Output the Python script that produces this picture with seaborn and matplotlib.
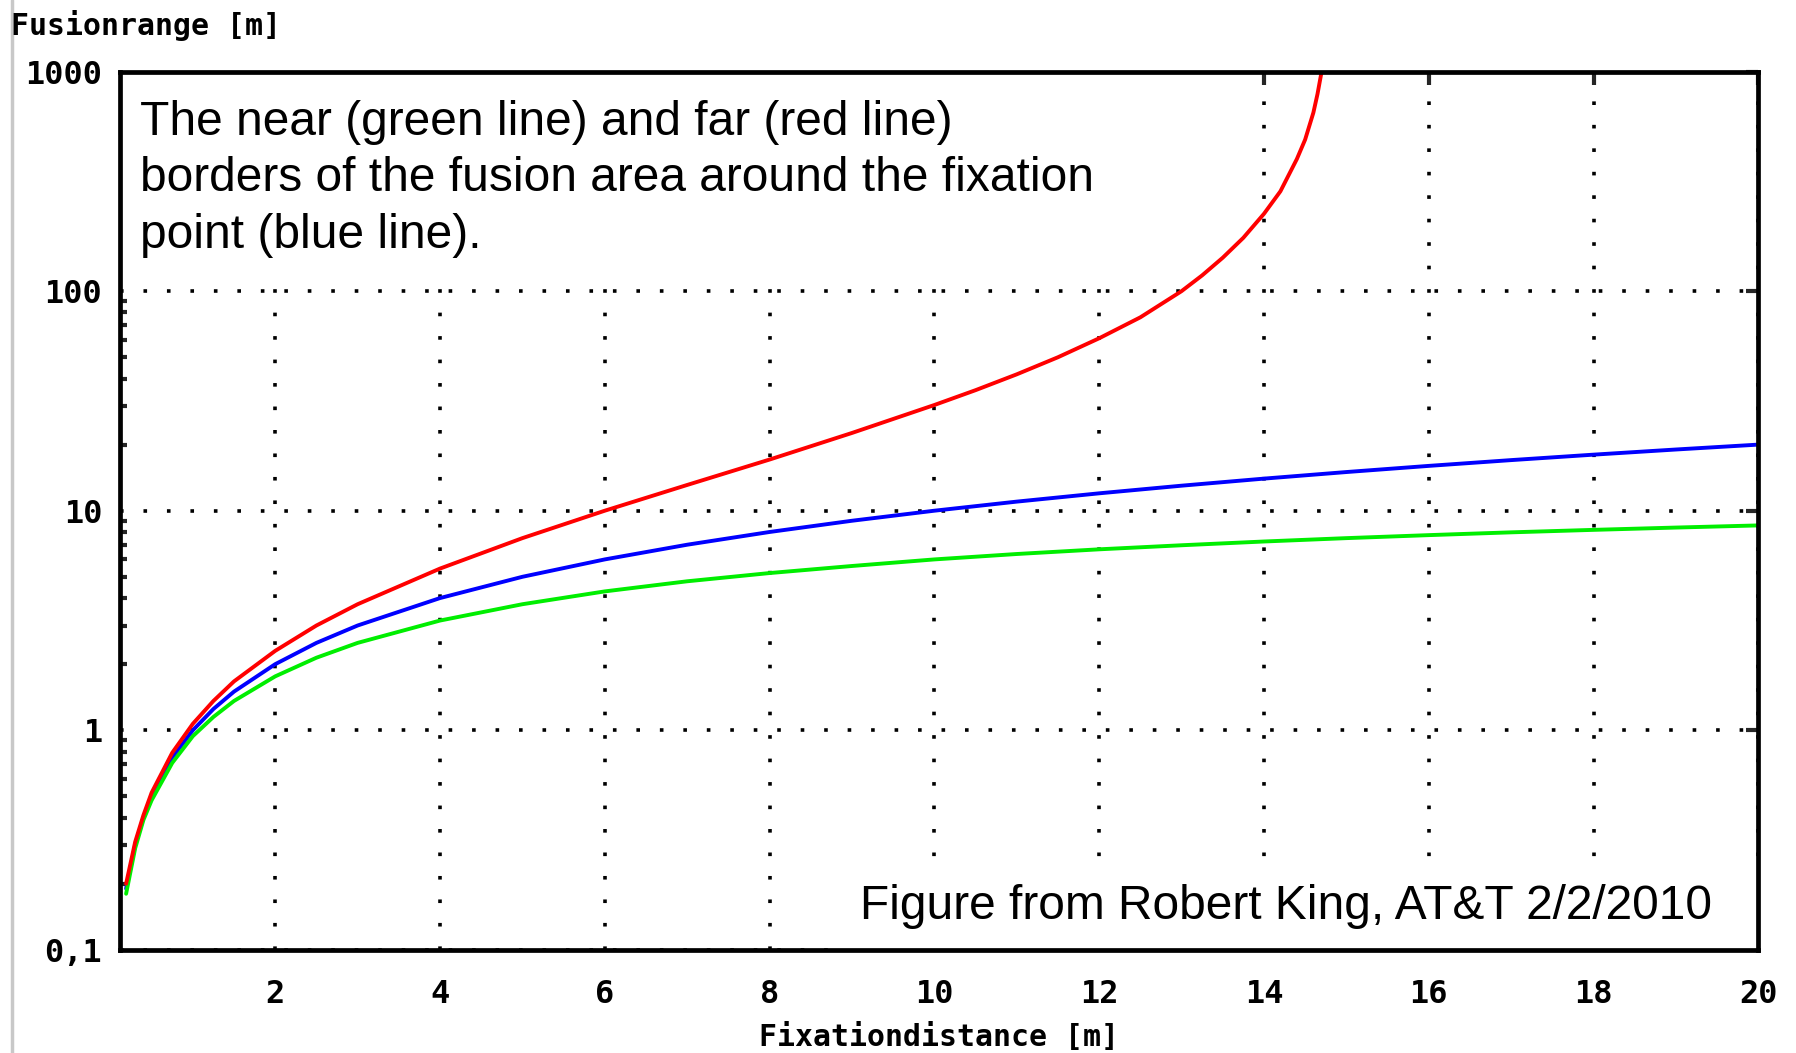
import numpy as np
import pandas as pd
import matplotlib
matplotlib.use("Agg")
import matplotlib.pyplot as plt
import seaborn as sns
from matplotlib.lines import Line2D
from matplotlib.patches import Rectangle

# ---- data ----
fix_x = [0.19, 0.3, 0.4, 0.5, 0.75, 1, 1.25, 1.5, 2, 2.5, 3, 4, 5, 6, 7, 8, 9, 10, 11, 12, 13, 14, 15, 16, 17, 18, 19, 20]
fix_y = [0.19, 0.3, 0.4, 0.5, 0.75, 1, 1.25, 1.5, 2, 2.5, 3, 4, 5, 6, 7, 8, 9, 10, 11, 12, 13, 14, 15, 16, 17, 18, 19, 20]

near_x = [0.19, 0.3, 0.4, 0.5, 0.75, 1, 1.25, 1.5, 2, 2.5, 3, 4, 5, 6, 7, 8, 9, 10, 11, 12, 13, 14, 15, 16, 17, 18, 19, 20]
near_y = [0.18, 0.29, 0.39, 0.48, 0.71, 0.94, 1.15, 1.36, 1.76, 2.14, 2.5, 3.16, 3.75, 4.29, 4.77, 5.2, 5.6, 6.0,
          6.35, 6.67, 6.96, 7.24, 7.5, 7.74, 7.97, 8.18, 8.38, 8.57]

far_x = [0.19, 0.3, 0.4, 0.5, 0.75, 1, 1.25, 1.5, 2, 2.5, 3, 4, 5, 6, 7, 8, 9, 10, 10.5, 11, 11.5, 12, 12.5, 13,
         13.25, 13.5, 13.75, 14, 14.2, 14.4, 14.5, 14.6, 14.65, 14.7]
far_y = [0.2, 0.31, 0.41, 0.52, 0.79, 1.07, 1.36, 1.67, 2.3, 3.0, 3.75, 5.45, 7.5, 10.0, 13.1, 17.1, 22.6, 30.3,
         35.4, 41.8, 50, 61, 76, 100, 118, 142, 175, 225, 285, 400, 490, 650, 790, 1000]

x_ticks = [2, 4, 6, 8, 10, 12, 14, 16, 18, 20]
y_ticks = [0.1, 1, 10, 100, 1000]
y_tick_labels = ["0,1", "1", "10", "100", "1000"]

note_top = ("The near (green line) and far (red line)\n"
            "borders of the fusion area around the fixation\n"
            "point (blue line).")
note_bottom = "Figure from Robert King, AT&T 2/2/2010"

# ---- figure ----
sns.set_style("white")
plt.rcParams['font.family'] = ['DejaVu Sans Mono', 'DejaVu Sans']
plt.rcParams['text.color'] = 'black'

fig = plt.figure(figsize=(17.96, 10.53), dpi=100)
ax = fig.add_axes([0.067, 0.098, 0.912, 0.834])

ax.set_yscale("log")
ax.set_xlim(0.12, 20)
ax.set_ylim(0.1, 1000)

ax.set_axisbelow(True)
ax.grid(True, which="major", color="black", linewidth=2.6,
        linestyle=(0, (1, 5.5)), dash_capstyle="butt")

# white boxes behind the notes (they hide the grid as in the reference)
ax.add_patch(Rectangle((0.0, 0.769), 0.612, 0.231, transform=ax.transAxes,
                       facecolor="white", edgecolor="none", zorder=1))
ax.add_patch(Rectangle((0.44, 0.0), 0.56, 0.101, transform=ax.transAxes,
                       facecolor="white", edgecolor="none", zorder=1))

lw = 2.8
sns.lineplot(x=fix_x, y=fix_y, color="#0000ff", linewidth=lw, ax=ax,
             estimator=None, sort=False, zorder=3)
sns.lineplot(x=near_x, y=near_y, color="#00ee00", linewidth=lw, ax=ax,
             estimator=None, sort=False, zorder=3)
sns.lineplot(x=far_x, y=far_y, color="#ff0000", linewidth=lw, ax=ax,
             estimator=None, sort=False, zorder=3)

ax.set_xticks(x_ticks)
ax.set_xticklabels([str(t) for t in x_ticks])
ax.set_yticks(y_ticks)
ax.set_yticklabels(y_tick_labels)
ax.tick_params(axis="both", which="major", direction="in", length=9, width=3,
               top=True, right=True, labelsize=23, labelcolor="black")
ax.tick_params(axis="x", which="major", pad=21)
ax.tick_params(axis="y", which="major", pad=13)
ax.tick_params(axis="y", which="minor", direction="in", length=5, width=3,
               left=True, right=False)
for lab in ax.get_xticklabels() + ax.get_yticklabels():
    lab.set_fontweight("bold")

for s in ax.spines.values():
    s.set_visible(True)
    s.set_color("black")
    s.set_linewidth(3.4)
    s.set_zorder(4)

ax.set_xlabel("")
ax.set_ylabel("")

fig.text(0.5*(0.067 + 0.979), 0.0145, "Fixationdistance [m]", ha="center", va="center",
         fontsize=21.5, fontweight="bold", color="black")
fig.text(0.006, 0.976, "Fusionrange [m]", ha="left", va="center",
         fontsize=21.5, fontweight="bold", color="black")

ax.text(0.012, 0.968, note_top, transform=ax.transAxes, ha="left", va="top",
        fontsize=34.5, family="Liberation Sans", linespacing=1.33, color="black", zorder=5)
ax.text(0.972, 0.024, note_bottom, transform=ax.transAxes, ha="right", va="bottom",
        fontsize=34.5, family="Liberation Sans", color="black", zorder=5)

fig.add_artist(Line2D([0.0068, 0.0068], [0, 1], transform=fig.transFigure,
                      color="#c8c8c8", linewidth=2.5))

fig.savefig("out.png", dpi=100, facecolor="white")
